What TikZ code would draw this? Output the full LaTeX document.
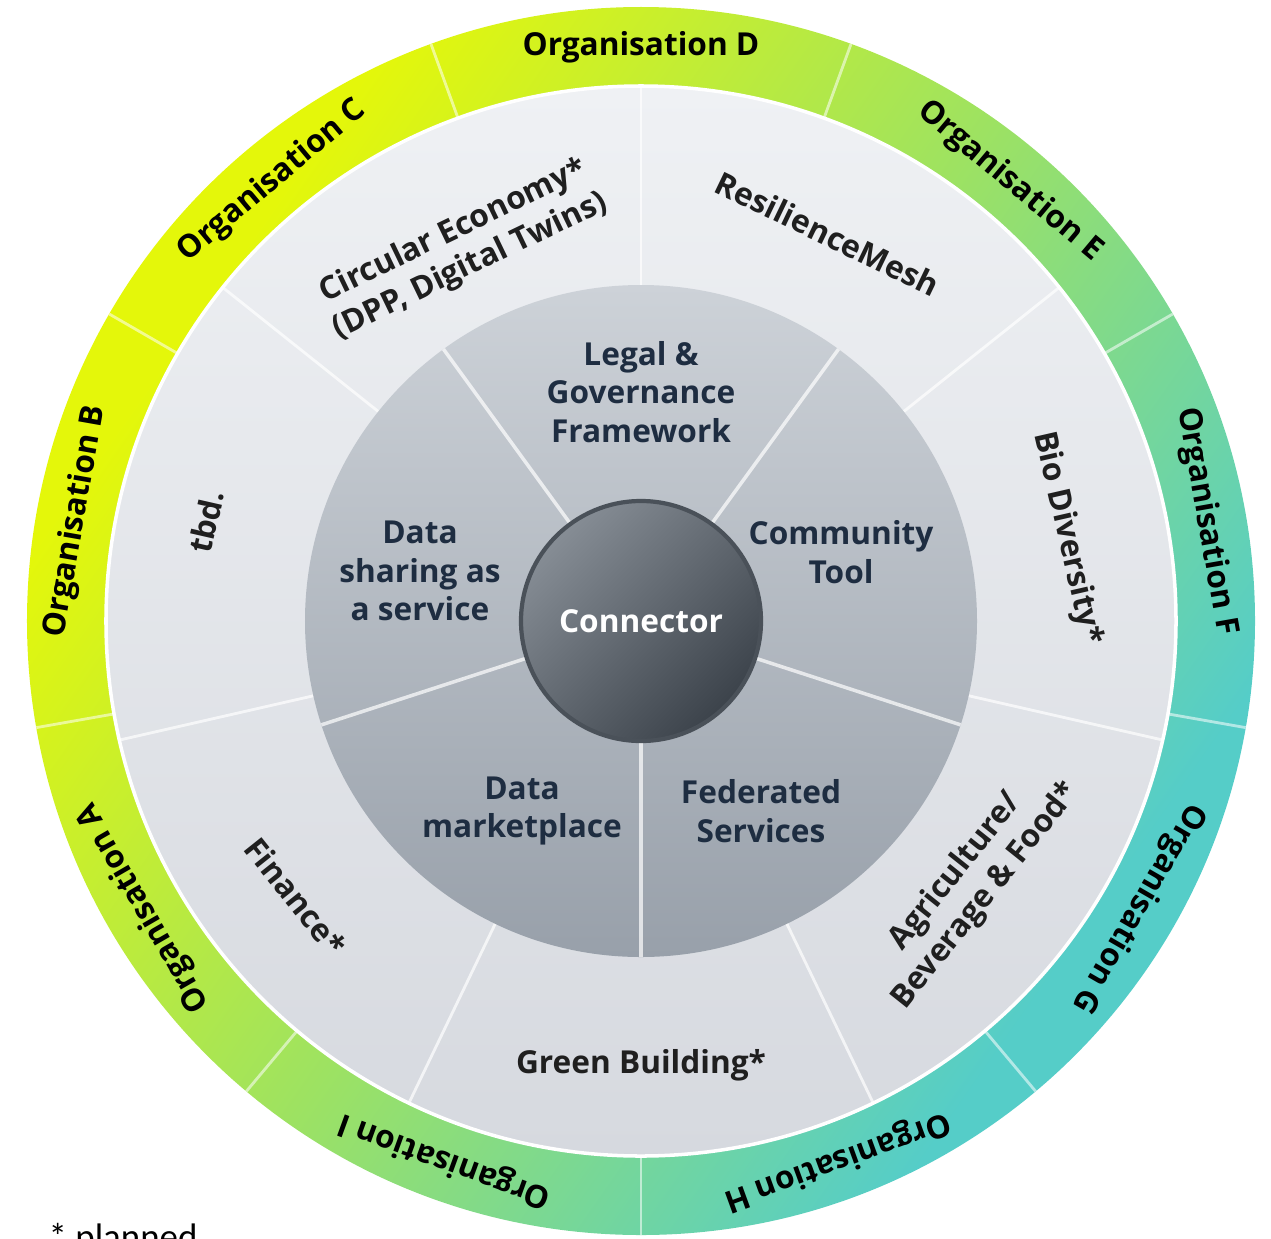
\documentclass[tikz,border=0pt]{standalone}
\usepackage{fontspec}
\setmainfont{Open Sans}
\newfontfamily\notefont{Carlito}

\definecolor{ringlime}{HTML}{E4F70A}
\definecolor{ringgreen}{HTML}{9DE262}
\definecolor{ringteal}{HTML}{55CDC8}
\definecolor{usetop}{HTML}{EFF1F4}
\definecolor{usebottom}{HTML}{D6D9DF}
\definecolor{coretop}{HTML}{CDD2D8}
\definecolor{corebottom}{HTML}{98A0AA}
\definecolor{contop}{HTML}{868D95}
\definecolor{conbottom}{HTML}{3C434B}
\definecolor{conborder}{HTML}{4A5159}
\definecolor{navy}{HTML}{1E2D41}

\pgfdeclarehorizontalshading{orgring}{100bp}{color(0bp)=(ringlime); color(28bp)=(ringlime); color(50bp)=(ringgreen); color(72bp)=(ringteal); color(100bp)=(ringteal)}

\begin{document}
\begin{tikzpicture}[
  orglabel/.style={font=\bfseries\fontsize{9}{11}\selectfont, text=black},
  uselabel/.style={font=\bfseries\fontsize{9}{11}\selectfont, text=black!88, align=center},
  corelabel/.style={font=\bfseries\fontsize{9}{11}\selectfont, text=navy, align=center},
  divider/.style={white, opacity=.7, line width=.8pt}]
\useasboundingbox (-6.41,-6.17) rectangle (6.30,6.21);
% rings
\shade[shading=orgring, shading angle=-35] (0,0) circle (6.14);
\shade[top color=usetop, bottom color=usebottom, draw=white, line width=1pt] (0,0) circle (5.35);
\foreach \a in {30,70,...,350}
  \draw[divider, opacity=.55] (\a:5.36) -- (\a:6.14);
\foreach \k in {0,...,6}
  \draw[divider] ({38.57+51.43*\k}:3.36) -- ({38.57+51.43*\k}:5.34);
\shade[top color=coretop, bottom color=corebottom] (0,0) circle (3.36);
\foreach \a in {54,126,...,342}
  \draw[divider, line width=1pt] (\a:1.2) -- (\a:3.36);
\node[circle, minimum size=2.4cm, inner sep=0pt, draw=conborder, line width=1.2pt,
  top color=contop, bottom color=conbottom, shading angle=45,
  text=white, font=\bfseries\fontsize{9}{11}\selectfont] (connector) at (0,0) {Connector};
% organisations
\foreach \a/\l in {90/D,130/C,170/B,210/A,250/I,290/H,330/G,10/F,50/E}
  \node[orglabel, rotate=\a-90] (org\l) at (\a:5.74) {Organisation \l};
% use cases
\node[uselabel, rotate=25.71] (circular) at (115.71:4.13) {Circular Economy*\\(DPP, Digital Twins)};
\node[uselabel, rotate=-25.71] (resilience) at (64.29:4.30) {ResilienceMesh};
\node[uselabel, rotate=-77.14] (bio) at (11:4.34) {Bio Diversity*};
\node[uselabel, rotate=51.43] (agri) at (321.43:4.22) {Agriculture/\\Beverage \& Food*};
\node[uselabel] (green) at (270:4.44) {Green Building*};
\node[uselabel, rotate=-51.43] (finance) at (218.57:4.42) {Finance*};
\node[uselabel, rotate=77.14] (tbd) at (167.14:4.46) {tbd.};
% core services
\node[corelabel] (legal) at (0,2.29) {Legal \&\\Governance\\Framework};
\node[corelabel] (datasharing) at (-2.21,0.50) {Data\\sharing as\\a service};
\node[corelabel] (community) at (2.00,0.69) {Community\\Tool};
\node[corelabel] (federated) at (1.20,-1.90) {Federated\\Services};
\node[corelabel] (marketplace) at (-1.19,-1.90) {Data\\marketplace};
\node[font=\notefont\fontsize{10.5}{12}\selectfont, anchor=base west, inner sep=0pt] (note) at (-5.93,-6.28) {* planned};
\end{tikzpicture}
\end{document}
